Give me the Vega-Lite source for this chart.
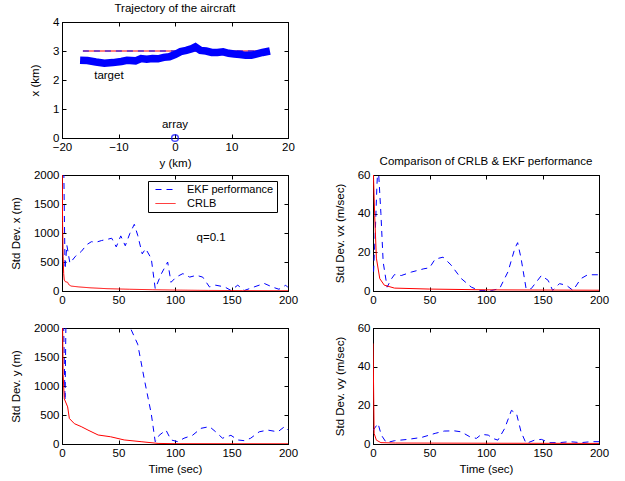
{
  "$schema": "https://vega.github.io/schema/vega-lite/v6.json",
  "background": "white",
  "padding": {"left": 9, "top": 2, "right": 5, "bottom": 3},
  "bounds": "flush",
  "columns": 2,
  "spacing": {"row": 37, "column": 85},
  "config": {
    "font": "Liberation Sans",
    "view": {"stroke": "black", "strokeWidth": 1},
    "axis": {"domainColor": "black", "domainWidth": 1, "tickColor": "black", "tickSize": -4, "tickWidth": 1,
      "labelColor": "black", "titleColor": "black", "labelFont": "Liberation Sans", "titleFont": "Liberation Sans",
      "labelFontSize": 11.5, "titleFontSize": 11.5, "titleFontWeight": "normal", "grid": false,
      "labelPadding": 7, "labelFlush": false, "labelOverlap": false, "format": "d"},
    "axisX": {"titlePadding": 5},
    "axisY": {"titlePadding": 12},
    "title": {"font": "Liberation Sans", "fontSize": 11.5, "fontWeight": "normal", "color": "black", "offset": 2},
    "legend": {"labelFont": "Liberation Sans", "labelFontSize": 11, "labelColor": "black"}
  },
  "datasets": {
    "traj": [
      {"y": -16.3, "x": 3.0, "s": "ref"}, {"y": 14.5, "x": 3.0, "s": "ref"},
      {"y": -16.3, "x": 3.0, "s": "est"}, {"y": 14.5, "x": 3.0, "s": "est"},
      {"y": -16.8, "x": 2.68, "s": "target"}, {"y": -15.5, "x": 2.67, "s": "target"}, {"y": -14, "x": 2.62, "s": "target"},
      {"y": -12.5, "x": 2.58, "s": "target"}, {"y": -11, "x": 2.6, "s": "target"}, {"y": -9.5, "x": 2.64, "s": "target"},
      {"y": -8.5, "x": 2.68, "s": "target"}, {"y": -7, "x": 2.66, "s": "target"}, {"y": -6, "x": 2.74, "s": "target"},
      {"y": -5, "x": 2.72, "s": "target"}, {"y": -4, "x": 2.74, "s": "target"}, {"y": -3, "x": 2.73, "s": "target"},
      {"y": -2, "x": 2.78, "s": "target"}, {"y": -1, "x": 2.8, "s": "target"}, {"y": 0, "x": 2.88, "s": "target"},
      {"y": 1, "x": 2.98, "s": "target"}, {"y": 2, "x": 3.02, "s": "target"}, {"y": 3, "x": 3.08, "s": "target"},
      {"y": 3.6, "x": 3.14, "s": "target"}, {"y": 4.5, "x": 3.02, "s": "target"}, {"y": 5.5, "x": 3.0, "s": "target"},
      {"y": 6.5, "x": 2.95, "s": "target"}, {"y": 7.5, "x": 2.95, "s": "target"}, {"y": 8.5, "x": 2.97, "s": "target"},
      {"y": 9.5, "x": 2.92, "s": "target"}, {"y": 10.5, "x": 2.9, "s": "target"}, {"y": 11.5, "x": 2.88, "s": "target"},
      {"y": 12.5, "x": 2.85, "s": "target"}, {"y": 13.5, "x": 2.85, "s": "target"}, {"y": 14.5, "x": 2.9, "s": "target"},
      {"y": 15.5, "x": 2.95, "s": "target"}, {"y": 16.8, "x": 3.0, "s": "target"}
    ],
    "trajnotes": [
      {"y": -11.7, "x": 2.15, "label": "target"},
      {"y": 0, "x": 0.45, "label": "array"}
    ],
    "arr": [{"y": 0, "x": 0}],
    "px": [
      {"t": 1, "v": 3000, "s": "EKF performance"}, {"t": 2.7, "v": 380, "s": "EKF performance"}, {"t": 4.3, "v": 790, "s": "EKF performance"},
      {"t": 7, "v": 480, "s": "EKF performance"}, {"t": 12, "v": 600, "s": "EKF performance"}, {"t": 17, "v": 680, "s": "EKF performance"},
      {"t": 22, "v": 800, "s": "EKF performance"}, {"t": 26, "v": 850, "s": "EKF performance"}, {"t": 30, "v": 840, "s": "EKF performance"},
      {"t": 35, "v": 870, "s": "EKF performance"}, {"t": 40, "v": 890, "s": "EKF performance"}, {"t": 44, "v": 910, "s": "EKF performance"},
      {"t": 48, "v": 760, "s": "EKF performance"}, {"t": 52, "v": 950, "s": "EKF performance"}, {"t": 56, "v": 780, "s": "EKF performance"},
      {"t": 60, "v": 990, "s": "EKF performance"}, {"t": 64, "v": 1150, "s": "EKF performance"}, {"t": 67, "v": 960, "s": "EKF performance"},
      {"t": 71, "v": 640, "s": "EKF performance"}, {"t": 74, "v": 730, "s": "EKF performance"}, {"t": 79, "v": 560, "s": "EKF performance"},
      {"t": 82.5, "v": 40, "s": "EKF performance"}, {"t": 88, "v": 300, "s": "EKF performance"}, {"t": 93.5, "v": 500, "s": "EKF performance"},
      {"t": 96.5, "v": 150, "s": "EKF performance"}, {"t": 101, "v": 240, "s": "EKF performance"}, {"t": 107, "v": 300, "s": "EKF performance"},
      {"t": 113, "v": 240, "s": "EKF performance"}, {"t": 119, "v": 270, "s": "EKF performance"}, {"t": 124.5, "v": 240, "s": "EKF performance"},
      {"t": 130.5, "v": 70, "s": "EKF performance"}, {"t": 136, "v": 100, "s": "EKF performance"}, {"t": 144, "v": 70, "s": "EKF performance"},
      {"t": 149.5, "v": 10, "s": "EKF performance"}, {"t": 155.5, "v": 100, "s": "EKF performance"}, {"t": 161.5, "v": 10, "s": "EKF performance"},
      {"t": 170, "v": 70, "s": "EKF performance"}, {"t": 179, "v": 130, "s": "EKF performance"}, {"t": 186, "v": 70, "s": "EKF performance"},
      {"t": 192, "v": 30, "s": "EKF performance"}, {"t": 198, "v": 100, "s": "EKF performance"}, {"t": 200, "v": 60, "s": "EKF performance"},
      {"t": 0, "v": 3000, "s": "CRLB"}, {"t": 0.5, "v": 1200, "s": "CRLB"}, {"t": 1, "v": 600, "s": "CRLB"}, {"t": 1.5, "v": 300, "s": "CRLB"},
      {"t": 2, "v": 190, "s": "CRLB"}, {"t": 3, "v": 160, "s": "CRLB"}, {"t": 5, "v": 150, "s": "CRLB"}, {"t": 6, "v": 110, "s": "CRLB"},
      {"t": 8, "v": 85, "s": "CRLB"}, {"t": 15, "v": 70, "s": "CRLB"}, {"t": 25, "v": 55, "s": "CRLB"}, {"t": 40, "v": 40, "s": "CRLB"},
      {"t": 60, "v": 30, "s": "CRLB"}, {"t": 80, "v": 22, "s": "CRLB"}, {"t": 100, "v": 16, "s": "CRLB"}, {"t": 130, "v": 10, "s": "CRLB"},
      {"t": 160, "v": 7, "s": "CRLB"}, {"t": 200, "v": 5, "s": "CRLB"}
    ],
    "pxnote": [{"t": 132, "v": 914, "label": "q=0.1"}],
    "pvx": [
      {"t": 0.5, "v": 10, "s": "EKF"}, {"t": 2, "v": 30, "s": "EKF"}, {"t": 3.5, "v": 55, "s": "EKF"}, {"t": 4.5, "v": 66, "s": "EKF"},
      {"t": 7, "v": 40, "s": "EKF"}, {"t": 9, "v": 15, "s": "EKF"}, {"t": 12.5, "v": 2, "s": "EKF"}, {"t": 16, "v": 6, "s": "EKF"},
      {"t": 19, "v": 8.5, "s": "EKF"}, {"t": 25, "v": 8, "s": "EKF"}, {"t": 34, "v": 9.8, "s": "EKF"}, {"t": 45, "v": 11.5, "s": "EKF"},
      {"t": 50, "v": 12, "s": "EKF"}, {"t": 55, "v": 16.5, "s": "EKF"}, {"t": 62, "v": 17.5, "s": "EKF"}, {"t": 69, "v": 13.5, "s": "EKF"},
      {"t": 78, "v": 6.5, "s": "EKF"}, {"t": 87, "v": 2, "s": "EKF"}, {"t": 94, "v": 0.3, "s": "EKF"}, {"t": 105, "v": 0.3, "s": "EKF"},
      {"t": 112, "v": 1.2, "s": "EKF"}, {"t": 119.5, "v": 10, "s": "EKF"}, {"t": 125.5, "v": 22, "s": "EKF"}, {"t": 128, "v": 25, "s": "EKF"},
      {"t": 131, "v": 17, "s": "EKF"}, {"t": 135.5, "v": 1.2, "s": "EKF"}, {"t": 140, "v": 1.2, "s": "EKF"}, {"t": 149, "v": 8, "s": "EKF"},
      {"t": 155, "v": 5.5, "s": "EKF"}, {"t": 159, "v": 0.3, "s": "EKF"}, {"t": 165, "v": 3.8, "s": "EKF"}, {"t": 171, "v": 3, "s": "EKF"},
      {"t": 177, "v": 0.3, "s": "EKF"}, {"t": 184, "v": 6.4, "s": "EKF"}, {"t": 190, "v": 8.4, "s": "EKF"}, {"t": 200, "v": 8.4, "s": "EKF"},
      {"t": 0, "v": 80, "s": "CRLB"}, {"t": 0.5, "v": 58, "s": "CRLB"}, {"t": 1.5, "v": 39, "s": "CRLB"}, {"t": 3, "v": 17, "s": "CRLB"},
      {"t": 6, "v": 6.4, "s": "CRLB"}, {"t": 10, "v": 3, "s": "CRLB"}, {"t": 19, "v": 1.5, "s": "CRLB"}, {"t": 50, "v": 1, "s": "CRLB"},
      {"t": 100, "v": 0.6, "s": "CRLB"}, {"t": 200, "v": 0.4, "s": "CRLB"}
    ],
    "py": [
      {"t": 0.5, "v": 3000, "s": "EKF"}, {"t": 2.7, "v": 750, "s": "EKF"}, {"t": 4, "v": 3000, "s": "EKF"}, {"t": 58, "v": 2600, "s": "EKF"},
      {"t": 61, "v": 1980, "s": "EKF"}, {"t": 67, "v": 1720, "s": "EKF"}, {"t": 73, "v": 1100, "s": "EKF"}, {"t": 79, "v": 520, "s": "EKF"},
      {"t": 82.5, "v": 40, "s": "EKF"}, {"t": 86, "v": 150, "s": "EKF"}, {"t": 92, "v": 240, "s": "EKF"}, {"t": 96.5, "v": 70, "s": "EKF"},
      {"t": 102.5, "v": 40, "s": "EKF"}, {"t": 108, "v": 100, "s": "EKF"}, {"t": 115.5, "v": 150, "s": "EKF"}, {"t": 123, "v": 270, "s": "EKF"},
      {"t": 130.5, "v": 300, "s": "EKF"}, {"t": 136, "v": 210, "s": "EKF"}, {"t": 142, "v": 100, "s": "EKF"}, {"t": 149.5, "v": 150, "s": "EKF"},
      {"t": 155.5, "v": 70, "s": "EKF"}, {"t": 161.5, "v": 57, "s": "EKF"}, {"t": 167, "v": 100, "s": "EKF"}, {"t": 174.5, "v": 210, "s": "EKF"},
      {"t": 182, "v": 240, "s": "EKF"}, {"t": 191, "v": 210, "s": "EKF"}, {"t": 197, "v": 300, "s": "EKF"}, {"t": 200, "v": 240, "s": "EKF"},
      {"t": 0, "v": 3000, "s": "CRLB"}, {"t": 1, "v": 1200, "s": "CRLB"}, {"t": 2, "v": 780, "s": "CRLB"}, {"t": 5, "v": 640, "s": "CRLB"},
      {"t": 6.5, "v": 440, "s": "CRLB"}, {"t": 11, "v": 350, "s": "CRLB"}, {"t": 17, "v": 300, "s": "CRLB"}, {"t": 23, "v": 240, "s": "CRLB"},
      {"t": 32, "v": 155, "s": "CRLB"}, {"t": 43, "v": 125, "s": "CRLB"}, {"t": 55, "v": 70, "s": "CRLB"}, {"t": 70, "v": 40, "s": "CRLB"},
      {"t": 85, "v": 10, "s": "CRLB"}, {"t": 100, "v": 5, "s": "CRLB"}, {"t": 200, "v": 3, "s": "CRLB"}
    ],
    "pvy": [
      {"t": 0, "v": 7, "s": "EKF"}, {"t": 4.4, "v": 10.6, "s": "EKF"}, {"t": 7.4, "v": 4.6, "s": "EKF"}, {"t": 11.8, "v": 0.7, "s": "EKF"},
      {"t": 19, "v": 1.7, "s": "EKF"}, {"t": 31, "v": 2.4, "s": "EKF"}, {"t": 43, "v": 3.4, "s": "EKF"}, {"t": 55, "v": 5.5, "s": "EKF"},
      {"t": 63, "v": 6.7, "s": "EKF"}, {"t": 72, "v": 6.8, "s": "EKF"}, {"t": 78, "v": 6.3, "s": "EKF"}, {"t": 85.5, "v": 3.8, "s": "EKF"},
      {"t": 91.5, "v": 2.9, "s": "EKF"}, {"t": 96, "v": 5, "s": "EKF"}, {"t": 102, "v": 4.6, "s": "EKF"}, {"t": 106, "v": 2.9, "s": "EKF"},
      {"t": 110.5, "v": 2, "s": "EKF"}, {"t": 116.5, "v": 8, "s": "EKF"}, {"t": 122.5, "v": 17.4, "s": "EKF"}, {"t": 127, "v": 15.7, "s": "EKF"},
      {"t": 131, "v": 6.3, "s": "EKF"}, {"t": 135.5, "v": 0.3, "s": "EKF"}, {"t": 143, "v": 2, "s": "EKF"}, {"t": 149, "v": 2.4, "s": "EKF"},
      {"t": 156, "v": 0.7, "s": "EKF"}, {"t": 165, "v": 0.7, "s": "EKF"}, {"t": 174, "v": 1.2, "s": "EKF"}, {"t": 184, "v": 0.7, "s": "EKF"},
      {"t": 193, "v": 1.2, "s": "EKF"}, {"t": 200, "v": 1.2, "s": "EKF"},
      {"t": 0, "v": 52, "s": "CRLB"}, {"t": 0.5, "v": 30, "s": "CRLB"}, {"t": 1, "v": 5.5, "s": "CRLB"}, {"t": 3, "v": 2, "s": "CRLB"},
      {"t": 7, "v": 0.7, "s": "CRLB"}, {"t": 20, "v": 0.5, "s": "CRLB"}, {"t": 100, "v": 0.4, "s": "CRLB"}, {"t": 200, "v": 0.3, "s": "CRLB"}
    ]
  },
  "resolve": {"scale": {"color": "independent", "strokeDash": "independent"}},
  "concat": [
    {
      "width": 226, "height": 116,
      "title": "Trajectory of the aircraft",
      "layer": [
        {
          "data": {"name": "traj"},
          "transform": [{"filter": "datum.s === 'ref'"}],
          "mark": {"type": "line", "color": "#ff0000", "strokeWidth": 1},
          "encoding": {
            "x": {"field": "y", "type": "quantitative", "scale": {"domain": [-20, 20]}, "axis": {"values": [-20, -10, 0, 10, 20], "title": "y (km)"}},
            "y": {"field": "x", "type": "quantitative", "scale": {"domain": [0, 4]}, "axis": {"values": [0, 1, 2, 3, 4], "title": "x (km)"}}
          }
        },
        {
          "data": {"name": "traj"},
          "transform": [{"filter": "datum.s === 'est'"}],
          "mark": {"type": "line", "color": "#0000ff", "strokeWidth": 1, "strokeDash": [6, 5]},
          "encoding": {
            "x": {"field": "y", "type": "quantitative", "scale": {"domain": [-20, 20]}, "axis": null},
            "y": {"field": "x", "type": "quantitative", "scale": {"domain": [0, 4]}, "axis": null}
          }
        },
        {
          "data": {"name": "traj"},
          "transform": [{"filter": "datum.s === 'target'"}],
          "mark": {"type": "line", "color": "#0000ff", "strokeWidth": 7.5},
          "encoding": {
            "x": {"field": "y", "type": "quantitative", "scale": {"domain": [-20, 20]}, "axis": null},
            "y": {"field": "x", "type": "quantitative", "scale": {"domain": [0, 4]}, "axis": null}
          }
        },
        {
          "data": {"name": "arr"},
          "mark": {"type": "point", "shape": "circle", "color": "#0000ff", "size": 45, "strokeWidth": 1.5, "filled": false, "clip": false},
          "encoding": {
            "x": {"field": "y", "type": "quantitative", "scale": {"domain": [-20, 20]}, "axis": null},
            "y": {"field": "x", "type": "quantitative", "scale": {"domain": [0, 4]}, "axis": null}
          }
        },
        {
          "data": {"name": "trajnotes"},
          "mark": {"type": "text", "font": "Liberation Sans", "fontSize": 11.5, "color": "black", "align": "center", "baseline": "middle"},
          "encoding": {
            "x": {"field": "y", "type": "quantitative", "scale": {"domain": [-20, 20]}, "axis": {"orient": "top", "labels": false, "title": null, "values": [-20, -10, 0, 10, 20]}},
            "y": {"field": "x", "type": "quantitative", "scale": {"domain": [0, 4]}, "axis": {"orient": "right", "labels": false, "title": null, "values": [0, 1, 2, 3, 4]}},
            "text": {"field": "label"}
          }
        }
      ],
      "resolve": {"axis": {"x": "independent", "y": "independent"}}
    },
    {
      "width": 226, "height": 116,
      "view": {"stroke": null},
      "data": {"values": []},
      "mark": "text",
      "encoding": {}
    },
    {
      "width": 226, "height": 116,
      "layer": [
        {
          "data": {"name": "px"},
          "mark": {"type": "line", "strokeWidth": 1, "clip": true},
          "encoding": {
            "x": {"field": "t", "type": "quantitative", "scale": {"domain": [0, 200]}, "axis": {"values": [0, 50, 100, 150, 200], "title": null}},
            "y": {"field": "v", "type": "quantitative", "scale": {"domain": [0, 2000]}, "axis": {"values": [0, 500, 1000, 1500, 2000], "title": "Std Dev. x (m)"}},
            "color": {"field": "s", "type": "nominal", "scale": {"domain": ["EKF performance", "CRLB"], "range": ["#0000ff", "#ff0000"]},
              "legend": {"title": null, "orient": "none", "legendX": 86, "legendY": 6, "strokeColor": "black", "fillColor": "white", "padding": 3, "cornerRadius": 0,
                "symbolType": "M-2,0H2", "symbolSize": 100, "symbolStrokeWidth": 1, "symbolOffset": 9, "labelOffset": 16, "rowPadding": 2, "labelFontSize": 11}},
            "strokeDash": {"field": "s", "type": "nominal", "scale": {"domain": ["EKF performance", "CRLB"], "range": [[6, 5], [1, 0]]}, "legend": {"title": null, "orient": "none", "legendX": 86, "legendY": 6}}
          }
        },
        {
          "data": {"name": "pxnote"},
          "mark": {"type": "text", "font": "Liberation Sans", "fontSize": 11.5, "color": "black", "align": "center", "baseline": "middle"},
          "encoding": {
            "x": {"field": "t", "type": "quantitative", "scale": {"domain": [0, 200]}, "axis": {"orient": "top", "labels": false, "title": null, "values": [0, 50, 100, 150, 200]}},
            "y": {"field": "v", "type": "quantitative", "scale": {"domain": [0, 2000]}, "axis": {"orient": "right", "labels": false, "title": null, "values": [0, 500, 1000, 1500, 2000]}},
            "text": {"field": "label"}
          }
        }
      ],
      "resolve": {"axis": {"x": "independent", "y": "independent"}}
    },
    {
      "width": 226, "height": 116,
      "title": "Comparison of CRLB & EKF performance",
      "data": {"name": "pvx"},
      "layer": [
        {
          "transform": [{"filter": "datum.s === 'EKF'"}],
          "mark": {"type": "line", "color": "#0000ff", "strokeWidth": 1, "strokeDash": [6, 5], "clip": true},
          "encoding": {
            "x": {"field": "t", "type": "quantitative", "scale": {"domain": [0, 200]}, "axis": {"values": [0, 50, 100, 150, 200], "title": null}},
            "y": {"field": "v", "type": "quantitative", "scale": {"domain": [0, 60]}, "axis": {"values": [0, 20, 40, 60], "title": "Std Dev. vx (m/sec)"}}
          }
        },
        {
          "transform": [{"filter": "datum.s === 'CRLB'"}],
          "mark": {"type": "line", "color": "#ff0000", "strokeWidth": 1, "clip": true},
          "encoding": {
            "x": {"field": "t", "type": "quantitative", "scale": {"domain": [0, 200]}, "axis": {"orient": "top", "labels": false, "title": null, "values": [0, 50, 100, 150, 200]}},
            "y": {"field": "v", "type": "quantitative", "scale": {"domain": [0, 60]}, "axis": {"orient": "right", "labels": false, "title": null, "values": [0, 20, 40, 60]}}
          }
        }
      ],
      "resolve": {"axis": {"x": "independent", "y": "independent"}}
    },
    {
      "width": 226, "height": 116,
      "data": {"name": "py"},
      "layer": [
        {
          "transform": [{"filter": "datum.s === 'EKF'"}],
          "mark": {"type": "line", "color": "#0000ff", "strokeWidth": 1, "strokeDash": [6, 5], "clip": true},
          "encoding": {
            "x": {"field": "t", "type": "quantitative", "scale": {"domain": [0, 200]}, "axis": {"values": [0, 50, 100, 150, 200], "title": "Time (sec)"}},
            "y": {"field": "v", "type": "quantitative", "scale": {"domain": [0, 2000]}, "axis": {"values": [0, 500, 1000, 1500, 2000], "title": "Std Dev. y (m)"}}
          }
        },
        {
          "transform": [{"filter": "datum.s === 'CRLB'"}],
          "mark": {"type": "line", "color": "#ff0000", "strokeWidth": 1, "clip": true},
          "encoding": {
            "x": {"field": "t", "type": "quantitative", "scale": {"domain": [0, 200]}, "axis": {"orient": "top", "labels": false, "title": null, "values": [0, 50, 100, 150, 200]}},
            "y": {"field": "v", "type": "quantitative", "scale": {"domain": [0, 2000]}, "axis": {"orient": "right", "labels": false, "title": null, "values": [0, 500, 1000, 1500, 2000]}}
          }
        }
      ],
      "resolve": {"axis": {"x": "independent", "y": "independent"}}
    },
    {
      "width": 226, "height": 116,
      "data": {"name": "pvy"},
      "layer": [
        {
          "transform": [{"filter": "datum.s === 'EKF'"}],
          "mark": {"type": "line", "color": "#0000ff", "strokeWidth": 1, "strokeDash": [6, 5], "clip": true},
          "encoding": {
            "x": {"field": "t", "type": "quantitative", "scale": {"domain": [0, 200]}, "axis": {"values": [0, 50, 100, 150, 200], "title": "Time (sec)"}},
            "y": {"field": "v", "type": "quantitative", "scale": {"domain": [0, 60]}, "axis": {"values": [0, 20, 40, 60], "title": "Std Dev. vy (m/sec)"}}
          }
        },
        {
          "transform": [{"filter": "datum.s === 'CRLB'"}],
          "mark": {"type": "line", "color": "#ff0000", "strokeWidth": 1, "clip": true},
          "encoding": {
            "x": {"field": "t", "type": "quantitative", "scale": {"domain": [0, 200]}, "axis": {"orient": "top", "labels": false, "title": null, "values": [0, 50, 100, 150, 200]}},
            "y": {"field": "v", "type": "quantitative", "scale": {"domain": [0, 60]}, "axis": {"orient": "right", "labels": false, "title": null, "values": [0, 20, 40, 60]}}
          }
        }
      ],
      "resolve": {"axis": {"x": "independent", "y": "independent"}}
    }
  ]
}
